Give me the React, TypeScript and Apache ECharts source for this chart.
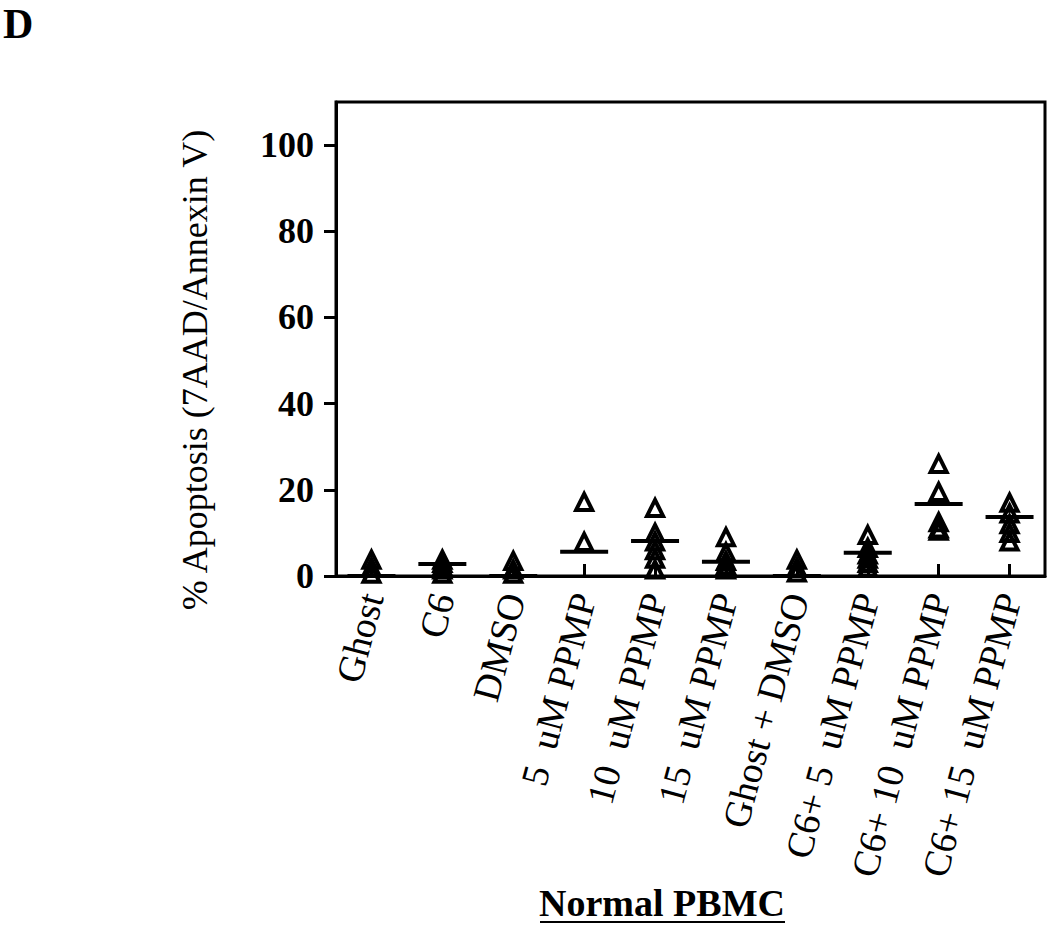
import React, { useEffect, useRef } from "react";
import * as echarts from "echarts";

const categories = [
  "Ghost",
  "C6",
  "DMSO",
  "5  uM PPMP",
  "10  uM PPMP",
  "15  uM PPMP",
  "Ghost + DMSO",
  "C6+ 5  uM PPMP",
  "C6+ 10  uM PPMP",
  "C6+ 15  uM PPMP",
];

const ghostValues = [3.8, 2.0, 0.5];
const c6Values = [3.8, 3.0, 2.2, 1.5, 0.5];
const dmsoValues = [3.5, 1.5, 0.5];
const ppmp5Values = [17.2, 7.9];
const ppmp10Values = [15.8, 10.0, 8.0, 6.0, 4.0, 1.5];
const ppmp15Values = [9.0, 5.5, 3.5, 2.5, 1.5];
const ghostDmsoValues = [3.8, 2.0, 0.8];
const c6Ppmp5Values = [9.5, 6.5, 5.0, 4.0, 3.0, 2.0];
const c6Ppmp10Values = [26.0, 19.5, 12.5, 11.0, 10.5];
const c6Ppmp15Values = [17.0, 14.5, 12.0, 10.0, 8.0];

const centerLineValues = [0, 2.8, 0, 5.6, 8.1, 3.3, 0, 5.4, 16.7, 13.7];

const yTickValues = [0, 20, 40, 60, 80, 100];

const groups = [
  ghostValues,
  c6Values,
  dmsoValues,
  ppmp5Values,
  ppmp10Values,
  ppmp15Values,
  ghostDmsoValues,
  c6Ppmp5Values,
  c6Ppmp10Values,
  c6Ppmp15Values,
];

const SERIF = "'Liberation Serif', 'Times New Roman', serif";

export default function App() {
  const ref = useRef<HTMLDivElement>(null);

  useEffect(() => {
    if (!ref.current) return;
    const chart = echarts.init(ref.current, null, { renderer: "svg" });

    const points: [number, number][] = [];
    groups.forEach((vals, i) => vals.forEach((v) => points.push([i, v])));
    const lines: [number, number][] = centerLineValues.map((v, i) => [i, v]);

    chart.setOption({
      animation: false,
      backgroundColor: "#ffffff",
      grid: {
        left: 336,
        top: 102,
        right: 5,
        bottom: 353,
        show: true,
        borderColor: "#000",
        borderWidth: 3,
        backgroundColor: "transparent",
      },
      xAxis: {
        type: "category",
        data: categories,
        boundaryGap: true,
        axisLine: { show: true, lineStyle: { color: "#000", width: 3 } },
        axisTick: {
          show: true,
          inside: true,
          alignWithLabel: true,
          length: 12,
          lineStyle: { color: "#000", width: 3 },
        },
        axisLabel: {
          rotate: 75,
          margin: 18,
          fontSize: 38,
          fontFamily: SERIF,
          color: "#000",
          interval: 0,
        },
        splitLine: { show: false },
      },
      yAxis: {
        type: "value",
        min: 0,
        max: 110,
        axisLine: { show: true, lineStyle: { color: "#000", width: 3 } },
        axisTick: {
          show: true,
          length: 12,
          customValues: yTickValues,
          lineStyle: { color: "#000", width: 3 },
        },
        axisLabel: {
          customValues: yTickValues,
          margin: 22,
          fontSize: 36,
          fontWeight: "bold",
          fontFamily: SERIF,
          color: "#000",
        },
        splitLine: { show: false },
      },
      series: [
        {
          type: "scatter",
          data: points,
          symbol: "triangle",
          symbolSize: [16, 16],
          itemStyle: {
            color: "rgba(0,0,0,0)",
            borderColor: "#000",
            borderWidth: 4,
            opacity: 1,
          },
          z: 3,
        },
        {
          type: "scatter",
          data: lines,
          symbol: "rect",
          symbolSize: [48, 4],
          itemStyle: { color: "#000", opacity: 1 },
          z: 4,
        },
      ],
      graphic: [
        {
          type: "text",
          left: 3,
          top: 3,
          style: {
            text: "D",
            font: `bold 42px ${SERIF}`,
            fill: "#000",
          },
        },
        {
          type: "text",
          x: 195,
          y: 370,
          rotation: Math.PI / 2,
          style: {
            text: "% Apoptosis (7AAD/Annexin V)",
            font: `36px ${SERIF}`,
            fill: "#000",
            align: "center",
            verticalAlign: "middle",
          },
        },
        {
          type: "text",
          x: 662,
          y: 903,
          style: {
            text: "Normal PBMC",
            font: `bold 38px ${SERIF}`,
            fill: "#000",
            align: "center",
            verticalAlign: "middle",
          },
        },
        {
          type: "line",
          shape: { x1: 540, y1: 922, x2: 785, y2: 922 },
          style: { stroke: "#000", lineWidth: 2 },
        },
      ],
    });

    return () => chart.dispose();
  }, []);

  return (
    <div
      ref={ref}
      style={{ position: "fixed", left: 0, top: 0, width: 1050, height: 929 }}
    />
  );
}
